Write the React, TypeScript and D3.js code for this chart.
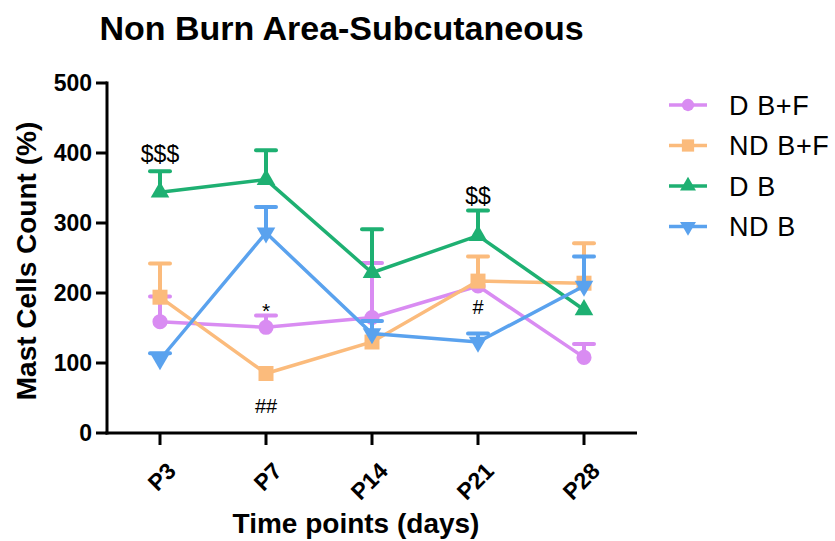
import { useEffect } from 'react';
import * as d3 from 'd3';

// time points on the x axis
const categories = ['P3', 'P7', 'P14', 'P21', 'P28'];

// group names (legend order = draw order)
const seriesNames = ['D B+F', 'ND B+F', 'D B', 'ND B'];

// means per time point
const dbfMean = [159, 151, 165, 210, 108];
const ndbfMean = [194, 85, 130, 217, 214];
const dbMean = [344, 362, 229, 282, 176];
const ndbMean = [105, 286, 142, 130, 210];

// upper error bar length (SEM)
const dbfErr = [36, 17, 78, 0, 19];
const ndbfErr = [48, 0, 0, 35, 57];
const dbErr = [30, 42, 62, 36, 0];
const ndbErr = [9, 37, 18, 12, 42];

const yTicks = [0, 100, 200, 300, 400, 500];

// significance marks: [time point, y value of baseline, text]
const annotations: [string, number, string][] = [
  ['P3', 387, '$$$'],
  ['P7', 165, '*'],
  ['P7', 28, '##'],
  ['P21', 327, '$$'],
  ['P21', 170, '#'],
];

const colors = ['#d98cf2', '#fbbb7c', '#1eb072', '#5aa2ee'];
const symbols = ['circle', 'square', 'triangle', 'triangleDown'];

const FONT = '"Liberation Sans", Arial, Helvetica, sans-serif';

function symbolPath(kind: string, size: number) {
  if (kind === 'circle') return d3.symbol(d3.symbolCircle, size)()!;
  if (kind === 'square') return d3.symbol(d3.symbolSquare, size)()!;
  return d3.symbol(d3.symbolTriangle, size)()!;
}

export default function App() {
  useEffect(() => {
    document.body.style.margin = '0';
  }, []);

  const width = 835;
  const height = 541;
  const axisLeft = 107;
  const axisRight = 637;

  const x = d3.scalePoint<string>().domain(categories).range([axisLeft, axisRight]).padding(0.5);
  const y = d3.scaleLinear().domain([0, 500]).range([433, 83]);

  const means = [dbfMean, ndbfMean, dbMean, ndbMean];
  const errs = [dbfErr, ndbfErr, dbErr, ndbErr];

  const line = d3.line<number>()
    .x((_, i) => x(categories[i])!)
    .y(d => y(d));

  return (
    <svg width={width} height={height} style={{ display: 'block', background: '#fff' }} fontFamily={FONT}>
      {/* タイトル */}
      <text x={341.5} y={40} textAnchor="middle" fontSize={34} fontWeight="bold">Non Burn Area-Subcutaneous</text>

      {/* y axis */}
      <line x1={axisLeft} x2={axisLeft} y1={y(500) - 1.5} y2={y(0) + 1.5} stroke="#000" strokeWidth={3} />
      {yTicks.map(t => (
        <g key={t} transform={`translate(${axisLeft},${y(t)})`}>
          <line x1={-11} x2={0} stroke="#000" strokeWidth={3} />
          <text x={-15} dy="0.36em" textAnchor="end" fontSize={23} fontWeight="bold">{t}</text>
        </g>
      ))}
      <text transform={`translate(36,${(y(0) + y(500)) / 2 + 3}) rotate(-90)`} textAnchor="middle" fontSize={28} fontWeight="bold">
        Mast Cells Count (%)
      </text>

      {/* x axis */}
      <line x1={axisLeft - 1.5} x2={axisRight} y1={y(0)} y2={y(0)} stroke="#000" strokeWidth={3} />
      {categories.map(c => (
        <g key={c} transform={`translate(${x(c)},${y(0)})`}>
          <line y1={0} y2={12} stroke="#000" strokeWidth={3} />
          <text transform="translate(6,28) rotate(-45)" textAnchor="end" dy="0.7em" fontSize={23} fontWeight="bold">{c}</text>
        </g>
      ))}
      <text x={(axisLeft + axisRight) / 2 - 16} y={533} textAnchor="middle" fontSize={28} fontWeight="bold">Time points (days)</text>

      {/* series */}
      {means.map((m, s) => (
        <g key={seriesNames[s]}>
          <path d={line(m)!} fill="none" stroke={colors[s]} strokeWidth={3.5} />
          {m.map((v, i) => errs[s][i] > 0 ? (
            <g key={i} stroke={colors[s]} strokeWidth={4}>
              <line x1={x(categories[i])} x2={x(categories[i])} y1={y(v)} y2={y(v + errs[s][i])} />
              <line x1={x(categories[i])! - 10} x2={x(categories[i])! + 10} y1={y(v + errs[s][i])} y2={y(v + errs[s][i])} strokeLinecap="round" />
            </g>
          ) : null)}
          {m.map((v, i) => (
            <path key={i}
              d={symbolPath(symbols[s], symbols[s] === 'circle' ? 180 : symbols[s] === 'square' ? 225 : 150)}
              transform={`translate(${x(categories[i])},${y(v)})${symbols[s] === 'triangleDown' ? ' rotate(180)' : ''}`}
              fill={colors[s]} />
          ))}
        </g>
      ))}

      {/* 有意差マーク */}
      {annotations.map(([c, v, t], i) => (
        <text key={i} x={x(c)} y={y(v)} textAnchor="middle" fontSize={t === '*' ? 21 : t.startsWith('$') ? 23 : 20}>{t}</text>
      ))}

      {/* legend */}
      {seriesNames.map((n, s) => (
        <g key={n} transform={`translate(688,${105 + s * 40.5})`}>
          <line x1={-19} x2={19} stroke={colors[s]} strokeWidth={3.5} />
          <path d={symbolPath(symbols[s], symbols[s] === 'circle' ? 120 : symbols[s] === 'square' ? 150 : 110)}
            transform={symbols[s] === 'triangleDown' ? 'rotate(180)' : ''} fill={colors[s]} />
          <text x={41} dy="0.36em" fontSize={27} letterSpacing={0.6}>{n}</text>
        </g>
      ))}
    </svg>
  );
}
